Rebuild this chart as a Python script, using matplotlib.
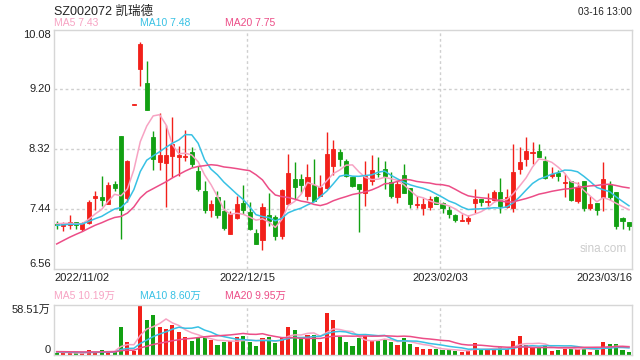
import matplotlib
matplotlib.use('Agg')
import matplotlib.pyplot as plt
import numpy as np

plt.rcParams['font.family'] = ['Liberation Sans', 'Noto Sans CJK SC', 'DejaVu Sans']

title = 'SZ002072 凯瑞德'
timestamp = '03-16 13:00'
date_labels = ['2022/11/02', '2022/12/15', '2023/02/03', '2023/03/16']
date_idx = [0, 30, 60, 89]
price_ticks = ['10.08', '9.20', '8.32', '7.44', '6.56']
vol_tick_labels = ['58.51万', '0']
ma_names = ['MA5', 'MA10', 'MA20']
price_ma_last = [7.43, 7.48, 7.75]
vol_ma_last = ['10.19万', '8.60万', '9.95万']

opens = [7.22, 7.19, 7.20, 7.25, 7.15, 7.23, 7.61, 7.62, 7.52, 7.81,
         8.51, 7.61, 8.97, 9.50, 9.30, 8.50, 8.13, 8.12, 8.22, 8.21,
         8.21, 8.28, 8.00, 7.71, 7.43, 7.62, 7.41, 7.08, 7.31, 7.53,
         7.40, 7.09, 6.98, 7.35, 7.32, 7.05, 7.52, 7.88, 7.89, 7.64,
         7.80, 7.64, 7.75, 8.07, 8.28, 8.14, 7.91, 7.81, 7.68, 7.86,
         7.96, 8.03, 7.84, 7.62, 7.94, 7.75, 7.50, 7.45, 7.47, 7.62,
         7.53, 7.43, 7.36, 7.27, 7.27, 7.53, 7.59, 7.55, 7.57, 7.69,
         7.47, 7.45, 8.03, 8.17, 8.26, 8.30, 8.15, 7.93, 7.97, 7.83,
         7.85, 7.56, 7.86, 7.45, 7.53, 7.62, 7.80, 7.69, 7.31, 7.25]
highs = [7.27, 7.25, 7.35, 7.25, 7.25, 7.58, 7.71, 7.93, 7.84, 7.85,
         8.51, 8.16, 8.98, 9.89, 9.61, 8.59, 8.86, 8.67, 8.79, 8.37,
         8.60, 8.35, 8.07, 7.85, 7.58, 7.70, 7.57, 7.41, 7.63, 7.79,
         7.54, 7.15, 7.53, 7.67, 7.36, 7.74, 8.25, 8.13, 7.95, 8.11,
         8.17, 7.94, 8.57, 8.45, 8.32, 8.18, 7.91, 7.81, 8.14, 8.23,
         8.21, 8.15, 7.98, 7.85, 8.11, 7.75, 7.63, 7.61, 7.64, 7.63,
         7.54, 7.49, 7.37, 7.37, 7.35, 7.73, 7.59, 7.68, 7.72, 7.90,
         7.74, 8.39, 8.36, 8.50, 8.42, 8.39, 8.22, 8.06, 8.02, 7.95,
         7.85, 7.84, 7.86, 7.63, 7.53, 8.13, 7.86, 7.69, 7.32, 7.25]
lows = [7.15, 7.12, 7.15, 7.15, 7.12, 7.22, 7.43, 7.48, 7.51, 7.71,
        7.00, 7.54, 8.97, 9.25, 8.89, 8.01, 8.02, 7.47, 7.91, 7.93,
        8.15, 8.06, 7.71, 7.38, 7.32, 7.31, 7.13, 7.07, 7.30, 7.37,
        7.14, 6.93, 6.84, 7.19, 6.98, 7.00, 7.51, 7.59, 7.67, 7.57,
        7.56, 7.63, 7.74, 7.94, 8.08, 7.91, 7.76, 7.10, 7.49, 7.79,
        7.91, 7.74, 7.61, 7.53, 7.67, 7.46, 7.46, 7.36, 7.43, 7.51,
        7.38, 7.31, 7.25, 7.26, 7.22, 7.39, 7.48, 7.48, 7.56, 7.39,
        7.46, 7.40, 7.95, 8.07, 8.11, 8.20, 7.89, 7.90, 7.85, 7.62,
        7.56, 7.53, 7.41, 7.43, 7.35, 7.41, 7.57, 7.15, 7.15, 7.13]
closes = [7.21, 7.24, 7.25, 7.20, 7.23, 7.54, 7.63, 7.58, 7.79, 7.75,
          7.43, 8.14, 8.98, 9.86, 8.89, 8.18, 8.23, 8.24, 8.39, 8.23,
          8.22, 8.10, 7.74, 7.43, 7.51, 7.35, 7.16, 7.37, 7.51, 7.43,
          7.15, 6.93, 7.47, 7.27, 7.04, 7.72, 7.97, 7.76, 7.80, 7.91,
          7.56, 7.76, 8.25, 8.33, 8.17, 7.92, 7.78, 7.74, 7.92, 8.01,
          7.95, 7.92, 7.63, 7.81, 7.68, 7.52, 7.51, 7.51, 7.59, 7.52,
          7.45, 7.37, 7.28, 7.28, 7.31, 7.59, 7.55, 7.56, 7.69, 7.48,
          7.62, 7.98, 8.13, 8.29, 8.28, 8.21, 7.90, 7.96, 7.93, 7.84,
          7.58, 7.77, 7.45, 7.51, 7.43, 7.88, 7.62, 7.19, 7.27, 7.19]
volumes = [1.9, 2.3, 2.3, 2.3, 2.3, 5.4, 3.1, 5.4, 3.9, 3.9,
           33.3, 14.7, 4.3, 58.51, 41.1, 46.9, 33.3, 31.0, 35.3, 26.4,
           21.3, 15.9, 19.4, 20.9, 17.8, 12.0, 14.7, 15.9, 20.5, 21.7,
           14.7, 10.9, 20.2, 20.5, 14.0, 21.3, 33.3, 28.7, 19.8, 23.6,
           23.6, 14.7, 49.6, 41.1, 20.5, 14.7, 10.9, 19.4, 21.7, 16.7,
           16.7, 18.6, 14.7, 12.0, 20.2, 12.8, 9.3, 7.0, 7.0, 7.0,
           6.2, 5.4, 4.7, 3.9, 4.7, 14.0, 6.2, 6.2, 6.2, 9.3,
           7.0, 16.7, 21.7, 12.0, 9.3, 9.3, 12.0, 5.0, 6.2, 7.4,
           8.1, 7.4, 8.1, 3.9, 6.2, 14.7, 13.2, 13.2, 5.4, 3.1]
# closes / volumes of the 19 sessions before the window (estimated from MA starts)
pre_closes = [6.25, 6.28, 6.33, 6.42, 6.57, 6.72, 6.86, 6.95, 7.05, 7.12,
              7.15, 7.18, 7.20, 7.17, 7.18, 7.22, 7.24, 7.23, 7.23]
pre_volumes = [3.8, 4.5, 3.6, 4.2, 5.0, 3.9, 4.4, 3.5, 4.1, 4.8,
               3.7, 4.3, 4.0, 3.6, 4.6, 4.2, 3.4, 4.0, 3.3]

RED = '#f2201a'
GREEN = '#12a012'
MA_COLORS = ['#f7a3c3', '#38c1e4', '#ec4d87']
FRAME = '#d6d6d6'
GRID = '#cfcfcf'

def moving_avg(pre, vals, n):
    full = np.array(list(pre) + list(vals), dtype=float)
    k = len(pre)
    return np.array([full[i + k - n + 1:i + k + 1].mean() for i in range(len(vals))])

n = len(closes)
x = np.arange(n)
o = np.array(opens); h = np.array(highs); l = np.array(lows); c = np.array(closes)
up = c >= o
cols = [RED if u else GREEN for u in up]

fig = plt.figure(figsize=(6.4, 3.6), dpi=100)
W, H = 640.0, 360.0
ax = fig.add_axes([54 / W, 1 - 269 / H, 578 / W, (269 - 29.5) / H])
axv = fig.add_axes([54 / W, 1 - 355 / H, 578 / W, (355 - 305) / H])

xlim = (-0.42, 89.47)
for a in (ax, axv):
    a.set_xlim(*xlim)
    a.set_xticks([]); a.set_yticks([])
    for s in a.spines.values():
        s.set_color(FRAME); s.set_linewidth(1)

ax.set_ylim(6.56, 10.08)
grid_vals = [float(t) for t in price_ticks[1:-1]]
for g in grid_vals:
    ax.axhline(g, color=GRID, lw=1, ls=(0, (2, 2)), zorder=0)
for di in date_idx[1:-1]:
    ax.axvline(di - 0.35, color=GRID, lw=1, ls=(0, (2, 2)), zorder=0)
    axv.axvline(di - 0.35, color=GRID, lw=1, ls=(0, (2, 2)), zorder=0)

bw = 0.64
ax.vlines(x, l, h, colors=cols, lw=1, zorder=2)
ax.bar(x, np.abs(c - o), bottom=np.minimum(o, c), width=bw, color=cols,
       edgecolor=cols, linewidth=0.6, zorder=3)

for nwin, col in zip([5, 10, 20], MA_COLORS):
    ax.plot(x, moving_avg(pre_closes, closes, nwin), color=col, lw=1.1, zorder=4)

# volume
vol = np.array(volumes)
axv.set_ylim(0, float(vol_tick_labels[0].replace('万', '')))
axv.bar(x, vol, width=bw, color=cols, zorder=2)
for nwin, col in zip([5, 10, 20], MA_COLORS):
    axv.plot(x, moving_avg(pre_volumes, volumes, nwin), color=col, lw=1.1, zorder=4)

# y labels
ytr = ax.get_yaxis_transform()
for i, t in enumerate(price_ticks):
    va = 'top' if i == 0 else ('bottom' if i == len(price_ticks) - 1 else 'center')
    ax.text(-0.006, float(t), t, transform=ytr, ha='right', va=va, fontsize=8, color='#222222')
vtr = axv.get_yaxis_transform()
axv.text(-0.006, float(vol_tick_labels[0].replace('万', '')), vol_tick_labels[0], transform=vtr,
         ha='right', va='top', fontsize=8, color='#222222')
axv.text(-0.006, 0, vol_tick_labels[1], transform=vtr, ha='right', va='bottom', fontsize=8, color='#222222')

# x date labels
xtr = ax.get_xaxis_transform()
for k, (lab, di) in enumerate(zip(date_labels, date_idx)):
    if k == 0:
        ax.text(0.0, -0.015, lab, transform=ax.transAxes, ha='left', va='top', fontsize=8, color='#222222')
    elif k == len(date_labels) - 1:
        ax.text(1.0, -0.015, lab, transform=ax.transAxes, ha='right', va='top', fontsize=8, color='#222222')
    else:
        ax.text(di - 0.35, -0.015, lab, transform=xtr, ha='center', va='top', fontsize=8, color='#222222')

# headers
fig.text(54 / W, 1 - 12 / H, title, ha='left', va='center', fontsize=9, color='#222222')
fig.text(632 / W, 1 - 12 / H, timestamp, ha='right', va='center', fontsize=7.2, color='#222222')
ma_x = [54, 140, 225]
for name, val, col, xx in zip(ma_names, price_ma_last, MA_COLORS, ma_x):
    fig.text(xx / W, 1 - 23 / H, f'{name} {val:.2f}', ha='left', va='center', fontsize=7.5, color=col)
for name, val, col, xx in zip(ma_names, vol_ma_last, MA_COLORS, ma_x):
    fig.text(xx / W, 1 - 296 / H, f'{name} {val}', ha='left', va='center', fontsize=7.5, color=col)

fig.text(603 / W, 1 - 249 / H, 'sina.com', ha='center', va='center', fontsize=8.5, color='#cccccc')

fig.savefig('out.png', dpi=100)
